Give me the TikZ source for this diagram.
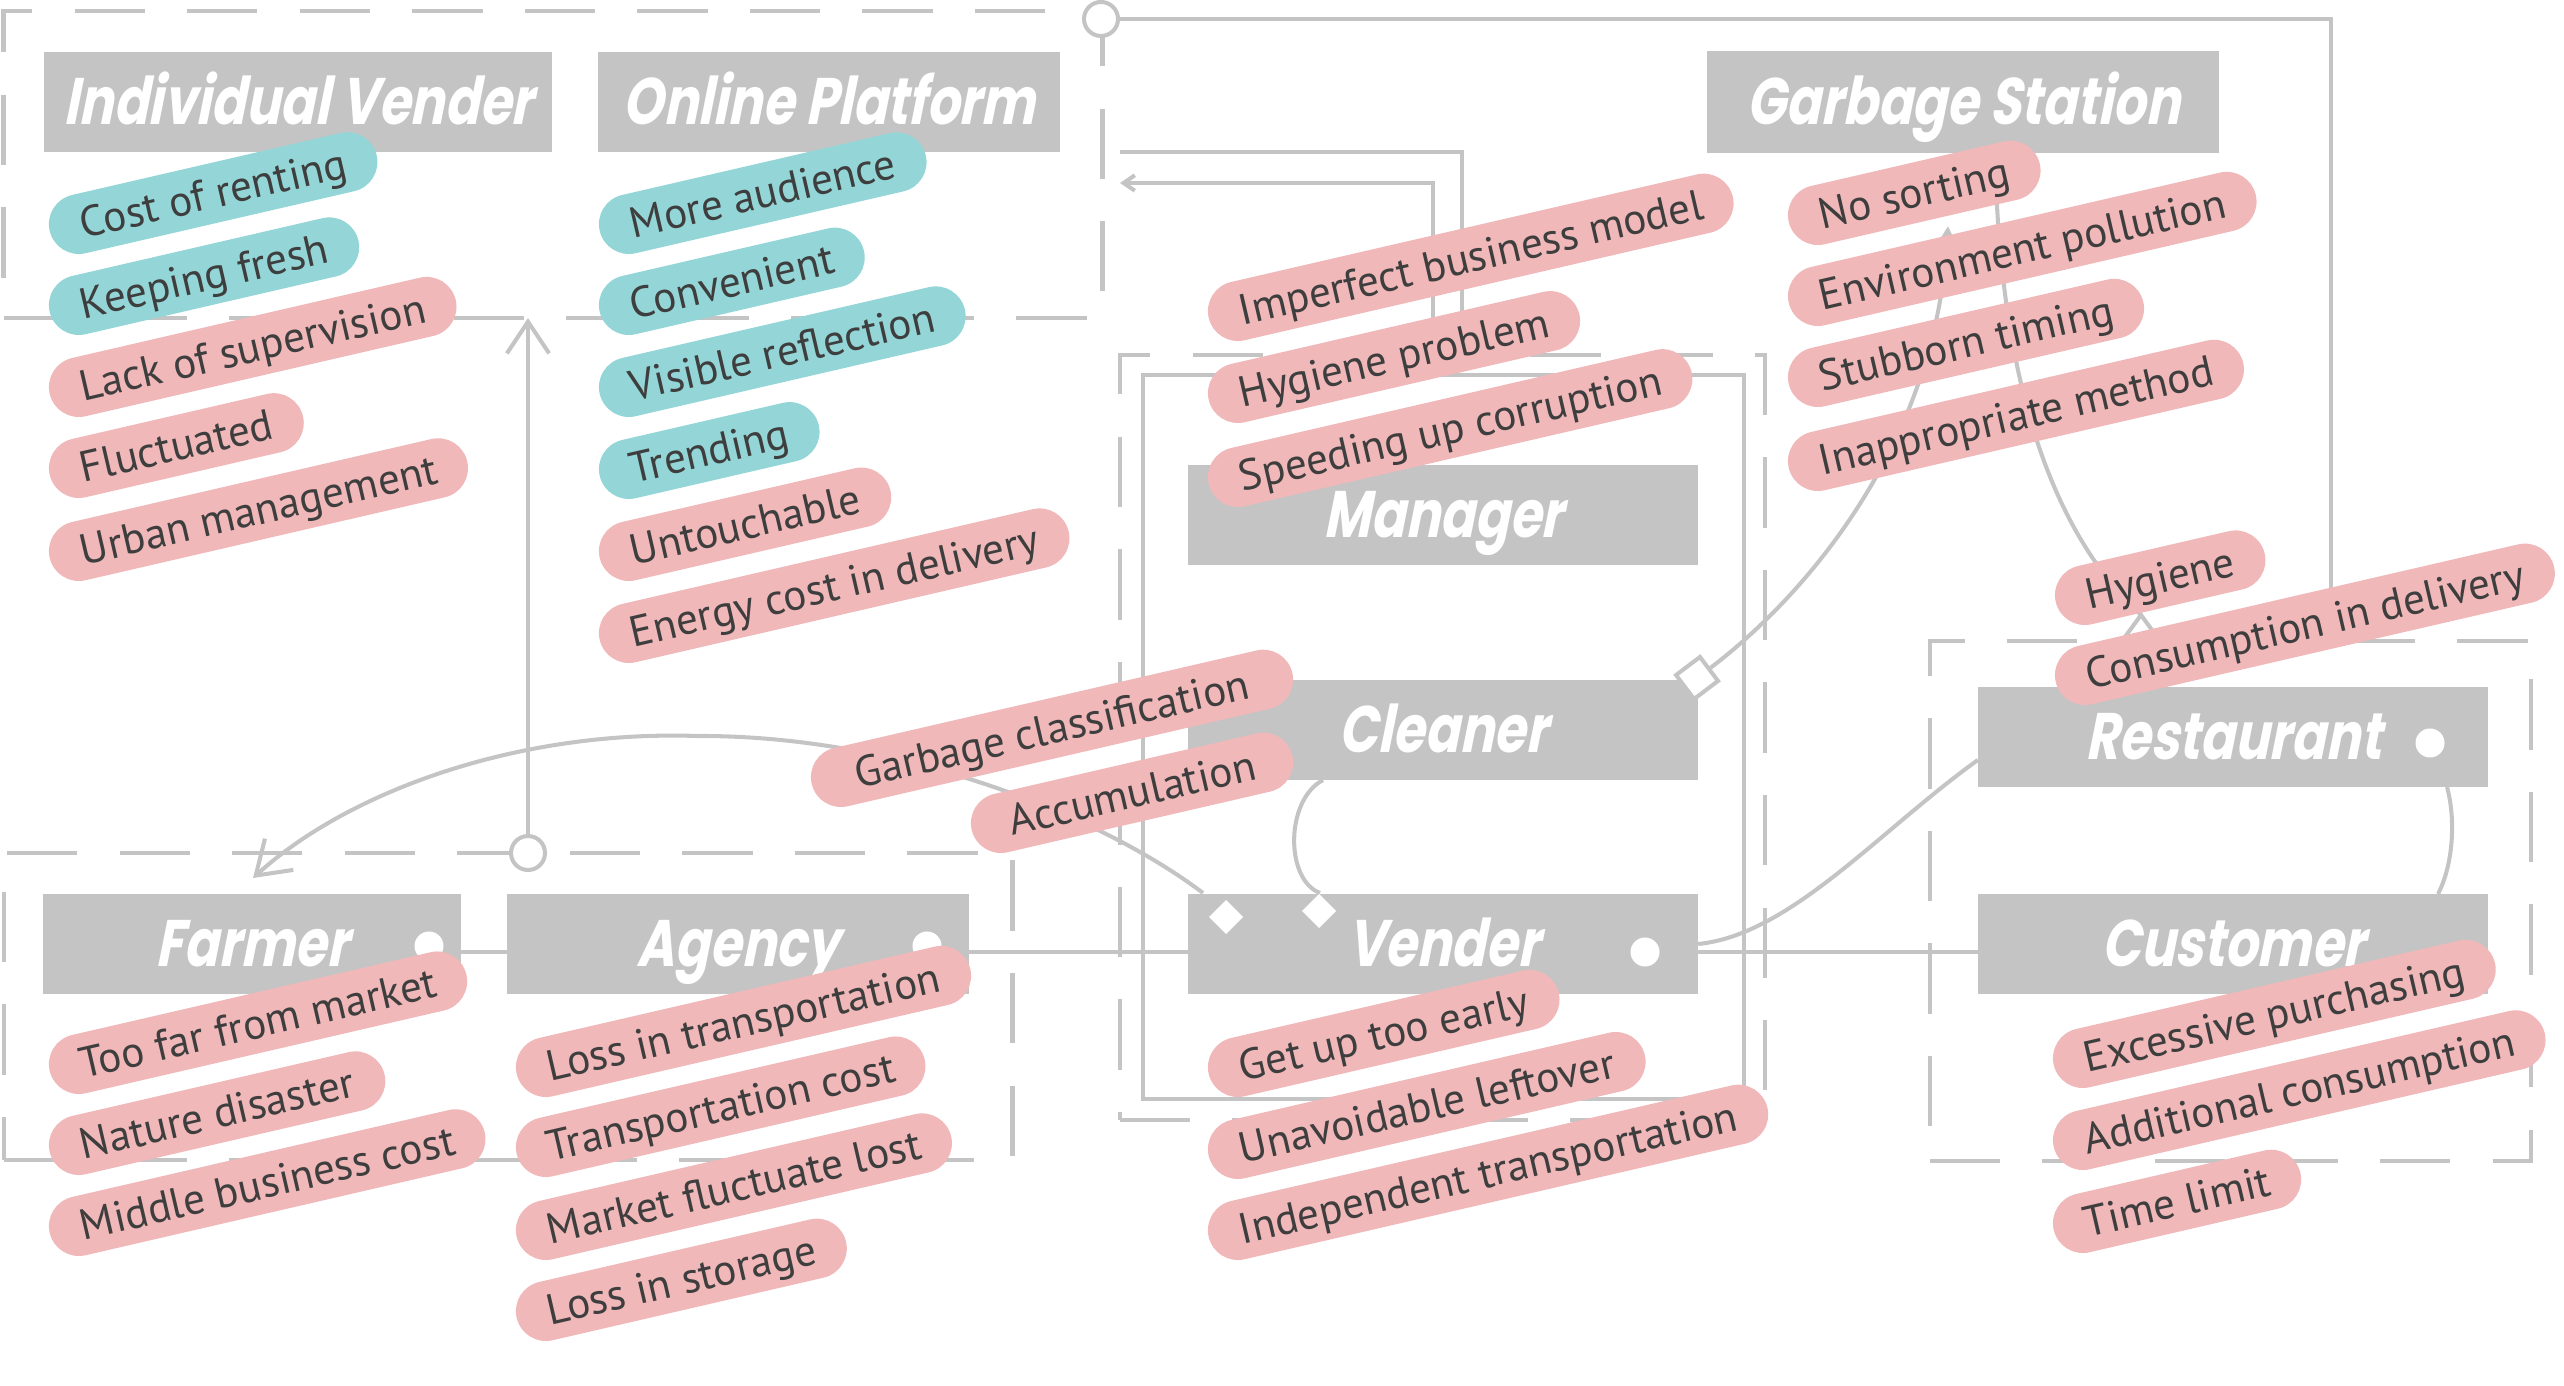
\documentclass[tikz,border=0pt]{standalone}
\usepackage{fontspec}
\usetikzlibrary{calc,arrows.meta}
\newfontfamily\tagfont{PT Sans}
\newfontfamily\headfont{Poppins}[FakeStretch=0.78,FakeSlant=0.2]
\definecolor{boxgrey}{HTML}{C4C4C4}
\definecolor{wire}{HTML}{C4C4C4}
\definecolor{rose}{HTML}{F0B8B9}
\definecolor{aqua}{HTML}{94D6D7}
\definecolor{ink}{HTML}{3E3E3E}
\tikzset{
  group/.style={draw=wire, line width=1.25pt, dash pattern=on 20pt off 12pt, inner sep=0pt, outer sep=0pt},
  frame/.style={draw=wire, line width=1.15pt, inner sep=0pt, outer sep=0pt},
  link/.style={draw=wire, line width=1.15pt},
  head/.style={fill=boxgrey, inner sep=0pt, outer sep=0pt, minimum height=1cm, text=white,
    text height=13pt, text depth=0pt, font=\headfont\bfseries\fontsize{18.7}{20}\selectfont},
  tag/.style={rounded corners=8.5pt, minimum height=17pt, inner xsep=9pt, inner ysep=0pt,
    text height=8.6pt, text depth=0pt, rotate=13, anchor=west, text=ink,
    font=\tagfont\fontsize{12.3}{14}\selectfont},
  bad/.style={tag, fill=rose},
  good/.style={tag, fill=aqua},
  dot/.style={circle, fill=white, inner sep=0pt, minimum size=0.29cm},
  gem/.style={rectangle, fill=white, inner sep=0pt, minimum size=0.24cm, rotate=45},
  ring/.style={circle, draw=wire, fill=white, line width=1.15pt, inner sep=0pt, minimum size=0.34cm},
  barb/.style={-{Straight Barb[length=9pt,width=12pt]}},
}
\begin{document}
\begin{tikzpicture}[x=0.01cm,y=-0.01cm]
  \useasboundingbox (0,0) rectangle (2564,1386);
  % groups
  \node[group, minimum width=10.98cm, minimum height=3.07cm] (grpTop) at (553,164.5) {};
  \node[group, minimum width=10.08cm, minimum height=3.07cm] (grpLow) at (508,1006.5) {};
  \node[group, minimum width=6.45cm, minimum height=7.65cm] (grpMid) at (1442.5,737.5) {};
  \node[frame, minimum width=6.01cm, minimum height=7.24cm] (grpMidIn) at (1443.5,737) {};
  \node[group, minimum width=6.01cm, minimum height=5.2cm] (grpRight) at (2230.5,901) {};
  % free ends
  \coordinate (rtap) at (2331,641);
  \coordinate (mgrA) at (1120,152);
  \coordinate (mgrAend) at (1462,355);
  \coordinate (mgrB) at (1120,183);
  \coordinate (mgrBend) at (1433,375);
  \coordinate (cropA) at (1203,893);
  \coordinate (cropB) at (253,878);
  \coordinate (wedge) at (2141,615);
  \coordinate (sortTip) at (1948,226);
  % actors
  \node[head, minimum width=5.08cm] (indiv) at (298,102) {Individual Vender};
  \node[head, minimum width=4.62cm] (online) at (829,102) {Online Platform};
  \node[head, minimum width=5.12cm, minimum height=1.02cm] (garbage) at (1963,102) {Garbage Station};
  \node[head, minimum width=5.1cm] (manager) at (1443,515) {Manager};
  \node[head, minimum width=5.1cm] (cleaner) at (1443,730) {Cleaner};
  \node[head, minimum width=5.1cm] (vender) at (1443,944) {Vender};
  \node[head, minimum width=5.1cm] (restaurant) at (2233,737) {Restaurant};
  \node[head, minimum width=5.1cm] (customer) at (2233,944) {Customer};
  \node[head, minimum width=4.17cm] (farmer) at (252,944) {Farmer};
  \node[head, minimum width=4.62cm] (agency) at (738,944) {Agency};
  \node[ring] (hinge) at (1101,19) {};
  \node[ring] (pivot) at (528,853) {};
  \node[draw=wire, fill=white, line width=1.15pt, inner sep=0pt, minimum size=0.3cm, rotate=37] (hatch) at (1697,678) {};
  % connectors
  \draw[link] (hinge.east) -| (rtap);
  \draw[link, barb] (pivot.north) -- (pivot |- grpTop.south);
  \draw[link] (mgrA) -| (mgrAend);
  \draw[link, {Straight Barb[length=3.2pt,width=4.4pt]}-] (mgrB) -| (mgrBend);
  \draw[link] ($(farmer.east)+(0,8)$) -- ($(agency.west)+(0,8)$);
  \draw[link] ($(agency.east)+(0,8)$) -- ($(vender.west)+(0,8)$);
  \draw[link] ($(vender.east)+(0,8)$) -- ($(customer.west)+(0,8)$);
  \draw[link, barb] (cropA) .. controls (1100,815) and (900,735) .. (697,736)
    .. controls (520,730) and (350,790) .. (cropB);
  \draw[link] ($(cleaner.south)+(-120,0)$) .. controls (1285,800) and (1285,880) .. ($(vender.north)+(-123,-1)$);
  \draw[link, -{Triangle[length=4pt,width=4pt]}] (hatch.east) .. controls (1800,600) and (1935,450) .. (sortTip);
  \draw[link] ($(garbage.south)+(32,0)$) .. controls (2000,400) and (2060,540) .. (wedge);
  \draw[link, fill=white] (wedge) -- ++(-19,26) -- ++(38,0) -- cycle;
  \draw[link] (vender.east) .. controls (1790,935) and (1880,830) .. ($(restaurant.west)+(0,23)$);
  \draw[link] ($(restaurant.south)+(214,0)$) .. controls (2456,820) and (2453,865) .. ($(customer.north)+(205,0)$);
  % markers
  \node[dot] (fdot) at (429,946) {};
  \node[dot] (adot) at (927,946) {};
  \node[dot] (vdot) at (1645,952) {};
  \node[dot] (rdot) at (2430,743) {};
  \node[gem] (gemA) at (1226,917) {};
  \node[gem] (gemB) at (1319,911) {};
  % tags
  \node[good] (iv1) at (49,231) {Cost of renting};
  \node[good] (iv2) at (49,312) {Keeping fresh};
  \node[bad] (iv3) at (49,394) {Lack of supervision};
  \node[bad] (iv4) at (49,475) {Fluctuated};
  \node[bad] (iv5) at (49,558) {Urban management};
  \node[good] (op1) at (599,231) {More audience};
  \node[good] (op2) at (599,312) {Convenient};
  \node[good] (op3) at (599,394) {Visible reflection};
  \node[good] (op4) at (599,476) {Trending};
  \node[bad] (op5) at (599,558) {Untouchable};
  \node[bad] (op6) at (599,640) {Energy cost in delivery};
  \node[bad] (mg1) at (1208,318) {Imperfect business model};
  \node[bad] (mg2) at (1208,400) {Hygiene problem};
  \node[bad] (mg3) at (1208,484) {Speeding up corruption};
  \node[bad] (gs1) at (1788,222) {No sorting};
  \node[bad] (gs2) at (1788,303) {Environment pollution};
  \node[bad] (gs3) at (1788,384) {Stubborn timing};
  \node[bad] (gs4) at (1788,468) {Inappropriate method};
  \node[bad, minimum width=4.93cm] (cl1) at (811,784) {Garbage classification};
  \node[bad, minimum width=3.29cm] (cl2) at (971,830) {Accumulation};
  \node[bad] (rs1) at (2055,602) {Hygiene};
  \node[bad] (rs2) at (2055,682) {Consumption in delivery};
  \node[bad] (fa1) at (49,1071) {Too far from market};
  \node[bad] (fa2) at (49,1152) {Nature disaster};
  \node[bad] (fa3) at (49,1233) {Middle business cost};
  \node[bad] (ag1) at (516,1074) {Loss in transportation};
  \node[bad] (ag2) at (516,1154) {Transportation cost};
  \node[bad] (ag3) at (516,1237) {Market fluctuate lost};
  \node[bad] (ag4) at (516,1318) {Loss in storage};
  \node[bad] (vd1) at (1208,1074) {Get up too early};
  \node[bad] (vd2) at (1208,1156) {Unavoidable leftover};
  \node[bad] (vd3) at (1208,1237) {Independent transportation};
  \node[bad] (cu1) at (2053,1065) {Excessive purchasing};
  \node[bad] (cu2) at (2053,1147) {Additional consumption};
  \node[bad] (cu3) at (2053,1230) {Time limit};
\end{tikzpicture}
\end{document}
